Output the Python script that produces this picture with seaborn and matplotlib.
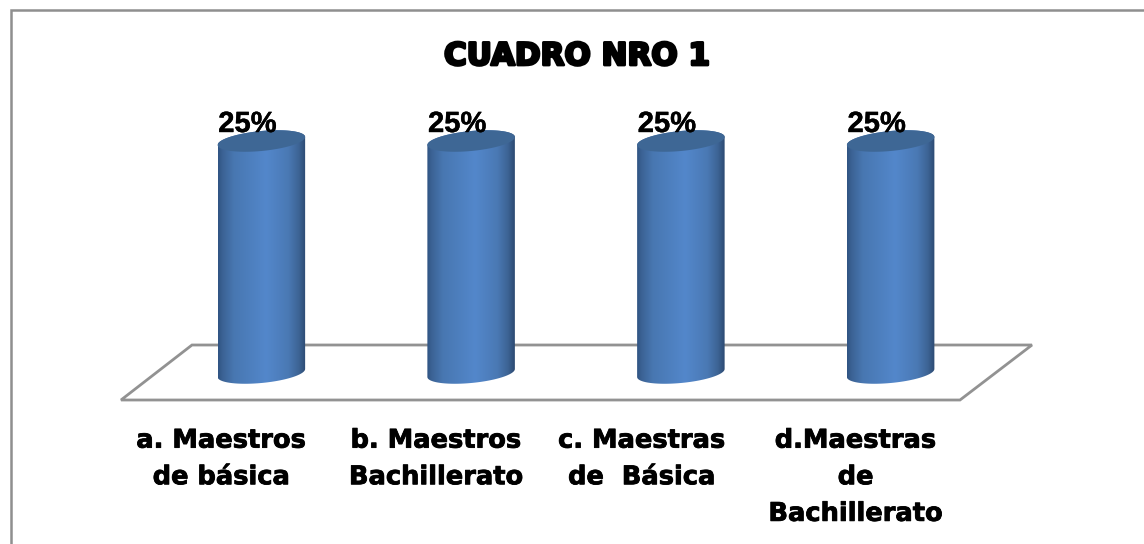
import numpy as np
import pandas as pd
import matplotlib
matplotlib.use("Agg")
import matplotlib.pyplot as plt
import matplotlib.patheffects as pe
from matplotlib.colors import LinearSegmentedColormap
from matplotlib.patches import Polygon, Rectangle
import seaborn as sns

categories = ["a. Maestros\nde básica", "b. Maestros\nBachillerato",
              "c. Maestras\nde  Básica", "d.Maestras\nde\nBachillerato"]
values = [25, 25, 25, 25]
title = "CUADRO NRO 1"

W, H = 1144, 544
sns.set_theme(style="white")
plt.rcParams["font.family"] = ["Liberation Sans", "DejaVu Sans"]

fig = plt.figure(figsize=(W / 100, H / 100), dpi=100, facecolor="white")
L, R, B, T = 156.5, 995.5, 395, 115
base_px, top_px = 373, 141
ax = fig.add_axes([L / W, 1 - B / H, (R - L) / W, (B - T) / H])
ax.patch.set_visible(False)

df = pd.DataFrame({"cat": categories, "val": values})
sns.barplot(data=df, x="cat", y="val", color="#4a7ab5", width=87.5 / 209.75,
            ax=ax, saturation=1, zorder=2)
px_x = 1 / 209.75                 # data units per pixel, horizontal
px_y = 25 / (base_px - top_px)    # data units per pixel, vertical
xlim = (-0.5, 3.5)
ylim = (-(B - base_px) * px_y, 25 + (top_px - T) * px_y)
ax.set_xlim(*xlim)
ax.set_ylim(*ylim)
sns.despine(ax=ax, left=True, bottom=True)
ax.set_ylabel("")
ax.set_xlabel("")
ax.set_yticks([])

# frame and floor, drawn behind the axes
fx = lambda p: (p[0] / W, 1 - p[1] / H)
fig.add_artist(Rectangle(fx((10.5, 560)), (1150 - 10.5) / W, (560 - 10) / H,
                         transform=fig.transFigure, fill=False,
                         ec="#8f8f8f", lw=1.8, zorder=-2))
fig.add_artist(Polygon([fx(p) for p in [(121, 400), (192, 345), (1032, 345), (960, 400)]],
                       closed=True, transform=fig.transFigure, fill=False,
                       ec="#929292", lw=2.0, zorder=-1))

# cylinder shading
cmap = LinearSegmentedColormap.from_list("cyl", [
    (0.00, "#2f5382"), (0.05, "#3b6294"), (0.18, "#4877b1"), (0.55, "#5387cb"),
    (0.80, "#4a79b4"), (0.92, "#3d6495"), (1.00, "#2c4a72")])
grad = np.linspace(0, 1, 256).reshape(1, -1)
t = np.linspace(0, 2 * np.pi, 121)
for bar, v in zip(ax.patches, values):
    x0, w = bar.get_x(), bar.get_width()
    cx, a = x0 + w / 2, w / 2
    b, k = 10 * px_y, 4 * px_y   # ellipse half-height and tilt
    tb = np.linspace(np.pi, 2 * np.pi, 60)
    tt = np.linspace(0, np.pi, 60)
    xs = np.r_[cx + a * np.cos(tb), cx + a * np.cos(tt)]
    ys = np.r_[b * np.sin(tb) + k * np.cos(tb), v + b * np.sin(tt) + k * np.cos(tt)]
    clip = Polygon(np.c_[xs, ys], closed=True, transform=ax.transData, fc="none", ec="none")
    ax.add_patch(clip)
    bar.set_visible(False)
    im = ax.imshow(grad, extent=(x0, x0 + w, ylim[0], ylim[1]), aspect="auto", cmap=cmap,
                   vmin=0, vmax=1, zorder=3, interpolation="bilinear")
    im.set_clip_path(clip)
    ax.add_patch(Polygon(np.c_[cx + a * np.cos(t), v + b * np.sin(t) + k * np.cos(t)],
                         closed=True, fc="#3e6795", ec="none", zorder=4, clip_on=False))
    ax.annotate(f"{v}%", xy=(cx, v), xytext=(-14, 17), textcoords="offset pixels",
                ha="center", va="center", fontsize=21, color="black", zorder=5,
                annotation_clip=False, fontweight="bold",
                path_effects=[pe.withStroke(linewidth=0.3, foreground="black")])
ax.set_xlim(*xlim)
ax.set_ylim(*ylim)

# category labels
shifts = [-40, -35, -39, -35]
ax.set_xticks([i + s * px_x for i, s in enumerate(shifts)], categories)
ax.tick_params(axis="x", length=0, pad=23.5)
for lab in ax.get_xticklabels():
    lab.set_fontfamily("DejaVu Sans")
    lab.set_fontsize(18.5)
    lab.set_fontweight("bold")
    lab.set_color("black")
    lab.set_linespacing(1.53)
    lab.set_path_effects([pe.withStroke(linewidth=0.6, foreground="black")])

fig.text(577 / W, 1 - 56.5 / H, title, ha="center", va="center", fontsize=22.3,
         fontweight="bold", color="black", family="DejaVu Sans",
         path_effects=[pe.withStroke(linewidth=2.0, foreground="black")])

fig.savefig("out.png", dpi=100)
